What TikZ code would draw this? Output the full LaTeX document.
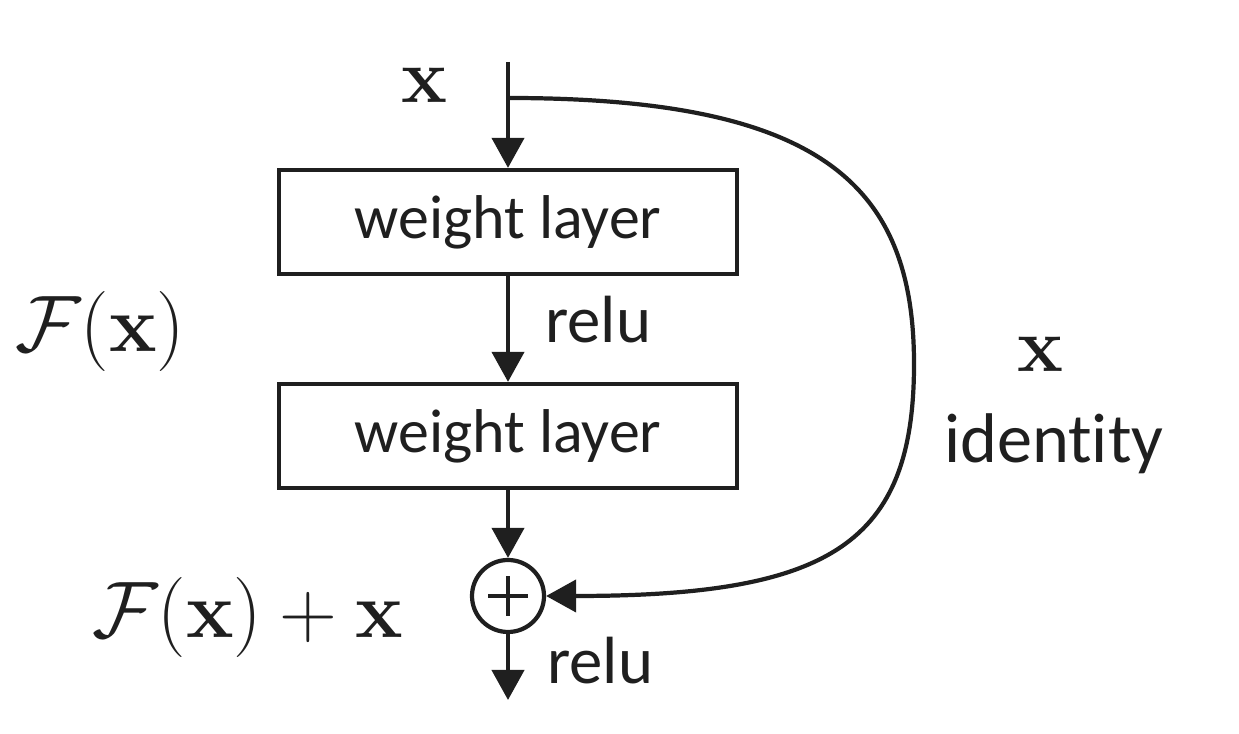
\RequirePackage{fix-cm}
\documentclass[tikz,border=0pt]{standalone}
\usepackage[no-math]{fontspec}
\setmainfont{Carlito}[Ligatures=NoCommon]
\usetikzlibrary{arrows.meta, positioning}

\begin{document}
\begin{tikzpicture}[>={Triangle[length=3mm, width=3.2mm]}, line width=1.2pt, black!88,
  layer/.style={draw, rectangle, minimum width=4.58cm, minimum height=1.04cm, inner sep=0pt,
    font=\fontsize{17.6}{20}\selectfont},
  lbl/.style={inner sep=0pt, font=\fontsize{19}{22}\selectfont},
  mth/.style={inner sep=0pt, font=\fontsize{22}{26}\selectfont},
  bigmth/.style={inner sep=0pt, font=\fontsize{22.8}{27}\selectfont}]

  % 参数定义
  \def\xc{5.08}    % 主干竖线位置
  \def\xr{9.14}    % 恒等支路最右处

  \useasboundingbox (0,0) rectangle (12.39,7.34);

  % 1. 主干: 输入, 两个权重层, 加法节点
  \coordinate (in) at (\xc, 6.72);
  \coordinate (split) at (\xc, 6.36);
  \node[layer] (w1) at (\xc, 5.12) {weight layer};
  \node[layer] (w2) at (\xc, 2.98) {weight layer};
  \node[draw, circle, minimum size=0.72cm, inner sep=0pt] (plus) at (\xc, 1.38) {};
  \draw (plus.center) +(-0.2,0) -- +(0.2,0);
  \draw (plus.center) +(0,-0.2) -- +(0,0.2);
  \coordinate (out) at (\xc, 0.34);

  % 2. 竖直箭头
  \draw[->] (in) -- (w1);
  \draw[->] (w1) -- (w2);
  \draw[->] (w2) -- (plus);
  \draw[->] (plus) -- (out);

  % 3. 恒等支路 (绕到右侧再回到加法节点)
  \draw[->] (split) .. controls (8.2, 6.36) and (\xr, 5.5) .. (\xr, 3.7)
    .. controls (\xr, 1.9) and (8.3, 1.38) .. (plus.east);

  % 4. 标注
  \node[mth, anchor=base] (xtop) at (4.24, 6.31) {$\mathbf{x}$};
  \node[lbl, anchor=base west] (relu1) at (5.43, 3.91) {relu};
  \node[lbl, anchor=base west] (relu2) at (5.45, 0.50) {relu};
  \node[bigmth, anchor=base west] (fx) at (0.13, 3.82) {$\mathcal{F}(\mathbf{x})$};
  \node[bigmth, anchor=base west] (fxx) at (0.90, 0.96) {$\mathcal{F}(\mathbf{x}) + \mathbf{x}$};
  \node[mth, anchor=base] (xid) at (10.40, 3.62) {$\mathbf{x}$};
  \node[lbl, anchor=base west, font=\fontsize{20}{24}\selectfont] (ident) at (9.42, 2.71) {identity};

\end{tikzpicture}
\end{document}
